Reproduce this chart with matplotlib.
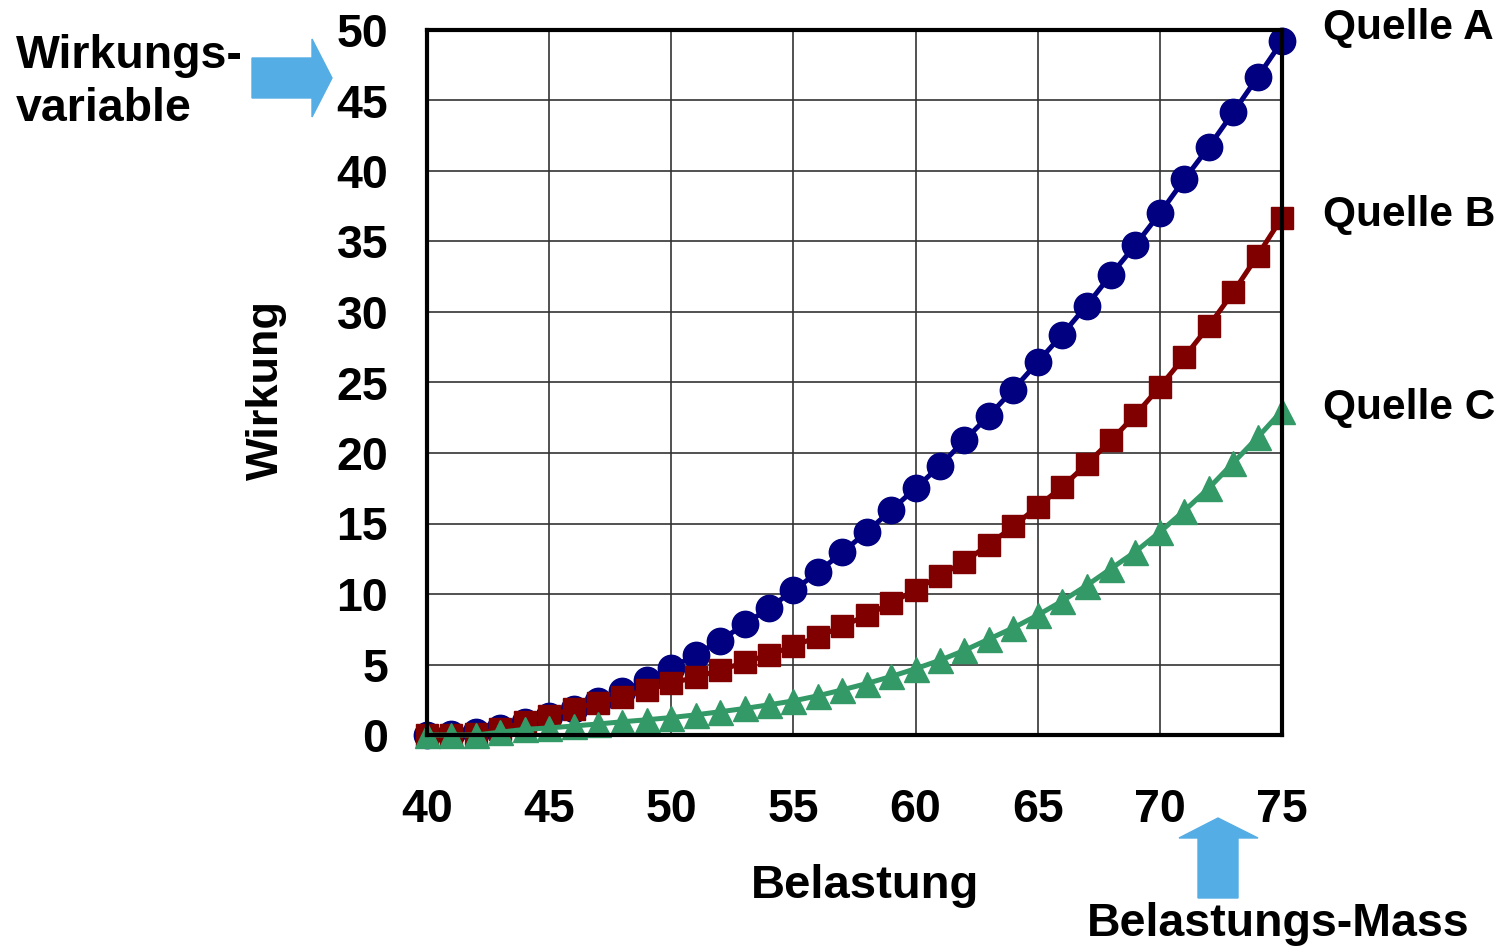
import matplotlib
matplotlib.use("Agg")
import matplotlib.pyplot as plt
from matplotlib.patches import Polygon

plt.rcParams['font.family'] = ['Liberation Sans', 'DejaVu Sans']
plt.rcParams['font.weight'] = 'bold'

# Belastung (x) and Wirkung for the three sources
belastung = list(range(40, 76))
quelle_a = [0, 0.05, 0.2, 0.5, 0.9, 1.35, 1.85, 2.4, 3.1, 3.9,
            4.75, 5.7, 6.7, 7.85, 9.0, 10.25, 11.55, 12.95, 14.4, 15.95,
            17.5, 19.1, 20.9, 22.65, 24.5, 26.45, 28.4, 30.45, 32.65, 34.75,
            37.0, 39.4, 41.7, 44.15, 46.65, 49.2]
quelle_b = [0, 0, 0.05, 0.45, 0.9, 1.38, 1.85, 2.3, 2.73, 3.2,
            3.68, 4.1, 4.6, 5.15, 5.7, 6.3, 6.98, 7.7, 8.5, 9.35,
            10.3, 11.3, 12.3, 13.5, 14.8, 16.2, 17.6, 19.2, 20.9, 22.7,
            24.7, 26.8, 29.0, 31.4, 34.0, 36.7]
quelle_c = [0, 0, 0, 0.2, 0.4, 0.5, 0.64, 0.78, 0.94, 1.08,
            1.24, 1.43, 1.65, 1.88, 2.14, 2.42, 2.78, 3.2, 3.65, 4.15,
            4.7, 5.3, 6.0, 6.8, 7.6, 8.5, 9.5, 10.6, 11.8, 13.0,
            14.4, 15.9, 17.5, 19.3, 21.1, 23.0]

x_ticks = [40, 45, 50, 55, 60, 65, 70, 75]
y_ticks = [0, 5, 10, 15, 20, 25, 30, 35, 40, 45, 50]

W, H = 1501, 946
fig = plt.figure(figsize=(W / 100, H / 100), dpi=100)


def px(x, y):
    # pixel position (from top left) -> figure fraction
    return (x / W, 1 - y / H)


ax = fig.add_axes([427 / W, 1 - 735 / H, (1282 - 427) / W, (735 - 30) / H])

ax.plot(belastung, quelle_a, color='#000080', lw=3.6, marker='o', ms=19, clip_on=False, zorder=3)
ax.plot(belastung, quelle_b, color='#800000', lw=3.6, marker='s', ms=16.5, clip_on=False, zorder=4)
ax.plot(belastung, quelle_c, color='#339966', lw=3.6, marker='^', ms=18, clip_on=False, zorder=5)

ax.set_xlim(40, 75)
ax.set_ylim(0, 50)
ax.set_xticks(x_ticks)
ax.set_yticks(y_ticks)
ax.tick_params(length=0, labelsize=33.5)
ax.tick_params(axis='x', pad=38)
ax.tick_params(axis='y', pad=28)
ax.grid(True, color='#333333', lw=1.2)
ax.set_axisbelow(True)
for s in ax.spines.values():
    s.set_linewidth(3)
    s.set_color('black')
    s.set_zorder(6)

fig.text(*px(266, 390), 'Wirkung', rotation=90, ha='center', va='center', fontsize=32.5, fontweight='bold')
fig.text(*px(865, 886), 'Belastung', ha='center', va='center', fontsize=34, fontweight='bold')

fig.text(*px(1323, 28), 'Quelle A', ha='left', va='center', fontsize=30.5, fontweight='bold')
fig.text(*px(1323, 215), 'Quelle B', ha='left', va='center', fontsize=30.5, fontweight='bold')
fig.text(*px(1323, 408), 'Quelle C', ha='left', va='center', fontsize=30.5, fontweight='bold')

fig.text(*px(16, 56), 'Wirkungs-', ha='left', va='center', fontsize=33.5, fontweight='bold')
fig.text(*px(16, 109), 'variable', ha='left', va='center', fontsize=33.5, fontweight='bold')
fig.text(*px(1278, 924), 'Belastungs-Mass', ha='center', va='center', fontsize=33.5, fontweight='bold')

blue = '#55ade5'
right_arrow = [(252, 58), (312, 58), (312, 39), (332, 78), (312, 117), (312, 98), (252, 98)]
up_arrow = [(1198, 898), (1198, 838), (1179, 838), (1218, 818), (1258, 838), (1238, 838), (1238, 898)]
for shape in (right_arrow, up_arrow):
    fig.patches.append(Polygon([px(a, b) for a, b in shape], closed=True, color=blue,
                               transform=fig.transFigure, figure=fig))

fig.savefig('out.png', dpi=100)
